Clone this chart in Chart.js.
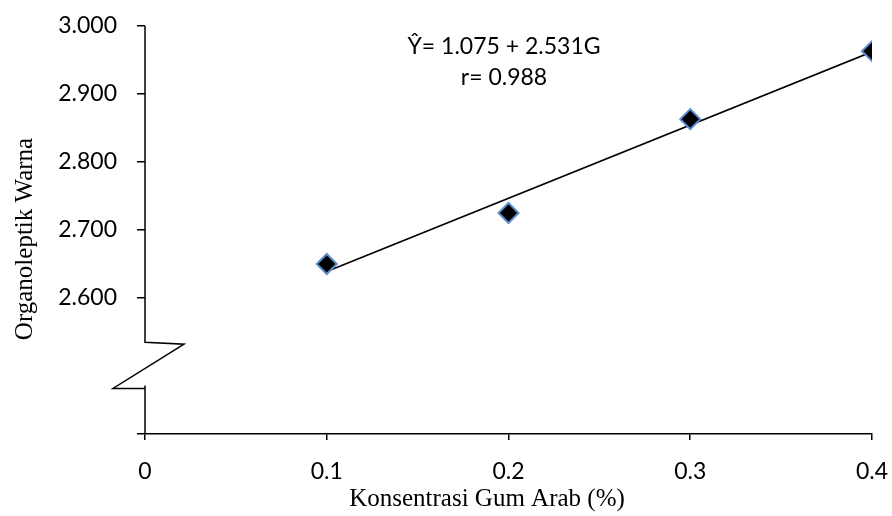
<!DOCTYPE html>
<html>
<head>
<meta charset="utf-8">
<script src="https://cdn.jsdelivr.net/npm/chart.js@4/dist/chart.umd.min.js"></script>
<style>
  body { margin: 0; background: #fff; }
  canvas { display: block; }
</style>
</head>
<body>
<canvas id="grafica" width="892" height="516"></canvas>
<script>
// data
const konsentrasi = [0.1, 0.2, 0.3, 0.4];
const warna = [2.650, 2.725, 2.863, 2.963];
const trendX = [0.1, 0.4];
const trendY = [2.639, 2.962];
const xTicks = [0, 0.1, 0.2, 0.3, 0.4];
const yTicks = [2.6, 2.7, 2.8, 2.9, 3.0];
const persamaan = "\u0176= 1.075 + 2.531G";
const korelasi = "r= 0.988";
const judulX = "Konsentrasi Gum Arab (%)";
const judulY = "Organoleptik Warna";

const fontTick = "Lato";
const fontJudul = "'Liberation Serif'";

// ===============================
// PLUGIN: y axis with break + texts
// ===============================
const extras = {
  id: "extras",
  afterDraw(chart) {
    const c = chart.ctx;
    const y = chart.scales.y;
    const ax = y.right;
    const top = y.getPixelForValue(3.0);
    const bottom = y.getPixelForValue(2.4);
    const b1 = y.getPixelForValue(2.535);
    const b2 = y.getPixelForValue(2.467);

    c.save();
    c.strokeStyle = "#000";
    c.lineWidth = 1.5;
    c.beginPath();
    c.moveTo(ax, top);
    c.lineTo(ax, b1);
    c.lineTo(ax + 39, b1 + 2);
    c.lineTo(ax - 32, b2);
    c.lineTo(ax, b2);
    c.moveTo(ax, b2 - 3);
    c.lineTo(ax, bottom);
    c.stroke();

    c.fillStyle = "#000";
    c.textAlign = "center";
    c.textBaseline = "middle";
    c.font = "23px " + fontTick;
    c.fillText(persamaan, 504, 47);
    c.fillText(korelasi, 504, 78);

    c.font = "25px " + fontJudul;
    c.fillText(judulX, 487, 499);

    c.translate(25, 239);
    c.rotate(-Math.PI / 2);
    c.fillText(judulY, 0, 0);
    c.restore();
  }
};

// no automatic room for edge labels, layout padding decides
const noPad = s => {
  s.paddingLeft = 0;
  s.paddingRight = 0;
  s.paddingTop = 0;
  s.paddingBottom = 0;
};

new Chart(document.getElementById("grafica"), {
  type: "scatter",
  data: {
    datasets: [
      {
        data: konsentrasi.map((k, i) => ({ x: k, y: warna[i] })),
        pointStyle: "rectRot",
        pointRadius: 10,
        pointBorderWidth: 2,
        pointBackgroundColor: "#000",
        pointBorderColor: "#5b8ed0",
        order: 0
      },
      {
        type: "line",
        data: trendX.map((k, i) => ({ x: k, y: trendY[i] })),
        borderColor: "#000",
        borderWidth: 1.6,
        pointRadius: 0,
        order: 1
      }
    ]
  },
  options: {
    responsive: false,
    animation: false,
    layout: { padding: { top: 26, right: 20, left: 0, bottom: 0 } },
    plugins: {
      legend: { display: false },
      tooltip: { enabled: false }
    },
    scales: {
      x: {
        type: "linear",
        min: 0,
        max: 0.4,
        afterBuildTicks: s => { s.ticks = xTicks.map(v => ({ value: v })); },
        afterFit: s => { s.height = 82; noPad(s); },
        border: { display: true, color: "#000", width: 1.5 },
        grid: { drawOnChartArea: false, color: "#000", tickLength: 6, lineWidth: 1.5 },
        ticks: {
          color: "#000",
          padding: 18,
          font: { family: fontTick, size: 23 },
          callback: v => (v === 0 ? "0" : v.toFixed(1))
        }
      },
      y: {
        type: "linear",
        min: 2.4,
        max: 3.0,
        afterBuildTicks: s => { s.ticks = [2.4].concat(yTicks).map(v => ({ value: v })); },
        afterFit: s => { s.width = 145; noPad(s); },
        border: { display: false },
        grid: { drawOnChartArea: false, color: "#000", tickLength: 8, lineWidth: 1.5 },
        ticks: {
          color: "#000",
          padding: 20,
          font: { family: fontTick, size: 23 },
          callback: v => (v < 2.55 ? "" : v.toFixed(3))
        }
      }
    }
  },
  plugins: [extras]
});
</script>
</body>
</html>
